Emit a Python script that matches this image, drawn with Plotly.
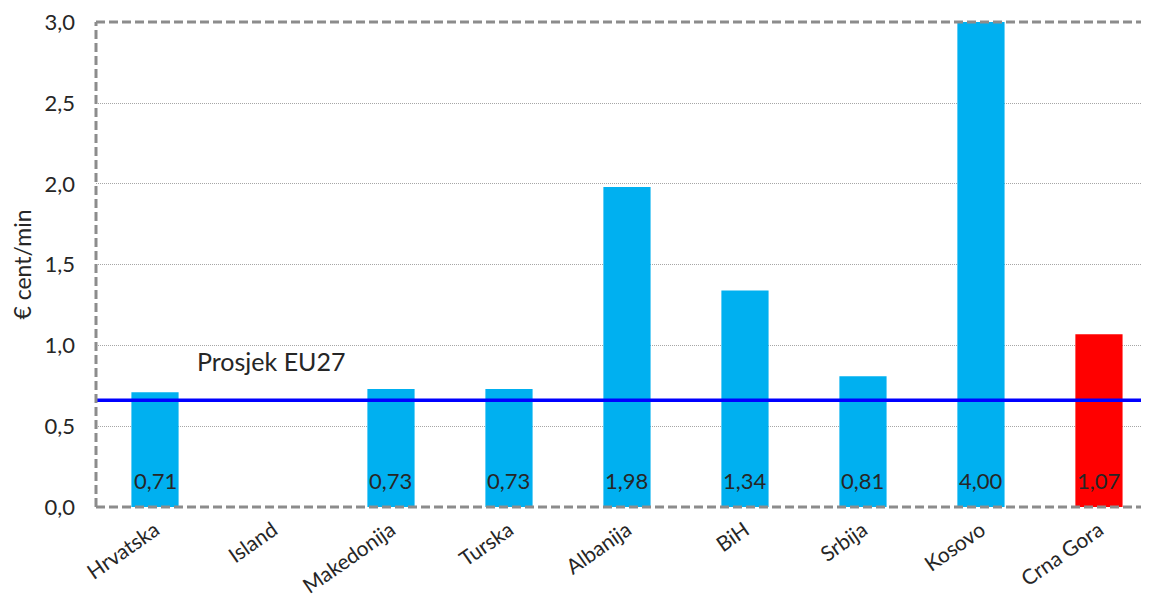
import plotly.graph_objects as go

categories = ["Hrvatska", "Island", "Makedonija", "Turska", "Albanija", "BiH", "Srbija", "Kosovo", "Crna Gora"]
values = [0.71, None, 0.73, 0.73, 1.98, 1.34, 0.81, 4.00, 1.07]
value_labels = ["0,71", "", "0,73", "0,73", "1,98", "1,34", "0,81", "4,00", "1,07"]
bar_colors = ["#00B0F0"] * 8 + ["#FF0000"]
eu27_avg = 0.66
eu27_label = "Prosjek EU27"
y_title = "€ cent/min"
y_ticks = [0.0, 0.5, 1.0, 1.5, 2.0, 2.5, 3.0]
y_tick_labels = ["0,0", "0,5", "1,0", "1,5", "2,0", "2,5", "3,0"]

FONT = "Lato"
TXT = "#262626"

fig = go.Figure()
fig.add_trace(go.Bar(
    x=categories, y=values, width=0.4, marker=dict(color=bar_colors, line=dict(width=0)),
    hoverinfo="skip", showlegend=False,
))

for c, v, t in zip(categories, values, value_labels):
    if t:
        fig.add_annotation(x=c, y=0, text=t, showarrow=False, yanchor="bottom", yshift=11,
                           font=dict(family=FONT, size=22, color=TXT))

# EU27 average line
fig.add_shape(type="line", xref="paper", yref="y", x0=0, x1=1, y0=eu27_avg, y1=eu27_avg,
              line=dict(color="#0000FF", width=3.5))
fig.add_annotation(x=0.094, xref="paper", y=eu27_avg, yref="y", text=eu27_label, showarrow=False,
                   xanchor="left", yanchor="bottom", yshift=22,
                   font=dict(family=FONT, size=25, color=TXT))

# dashed frame (left, top, bottom)
for (x0, y0, x1, y1) in [(0, 0, 0, 1), (0, 1, 1, 1), (0, 0, 1, 0)]:
    fig.add_shape(type="line", xref="paper", yref="paper", x0=x0, y0=y0, x1=x1, y1=y1,
                  line=dict(color="#8C8C8C", width=3, dash="9px,4px"))

fig.update_layout(
    width=1141, height=593,
    margin=dict(l=88, r=0, t=14, b=94),
    paper_bgcolor="white", plot_bgcolor="white",
    font=dict(family=FONT, color=TXT),
    xaxis=dict(range=[-0.5, 8.424], tickangle=-35, showgrid=False, showline=False, automargin=False,
               tickfont=dict(family=FONT, size=21, color=TXT), ticks="", ticklabelstandoff=6),
    yaxis=dict(range=[0, 3.002], tickmode="array", tickvals=y_ticks, ticktext=y_tick_labels,
               showgrid=True, automargin=False,
               gridcolor="#A6A6A6", gridwidth=1, griddash="1px,1px", zeroline=False, showline=False,
               tickfont=dict(family=FONT, size=22, color=TXT), ticks="", ticklabelstandoff=20,
               title=dict(text=y_title, font=dict(family=FONT, size=23, color=TXT), standoff=22)),
)

fig.write_html("out.html")
